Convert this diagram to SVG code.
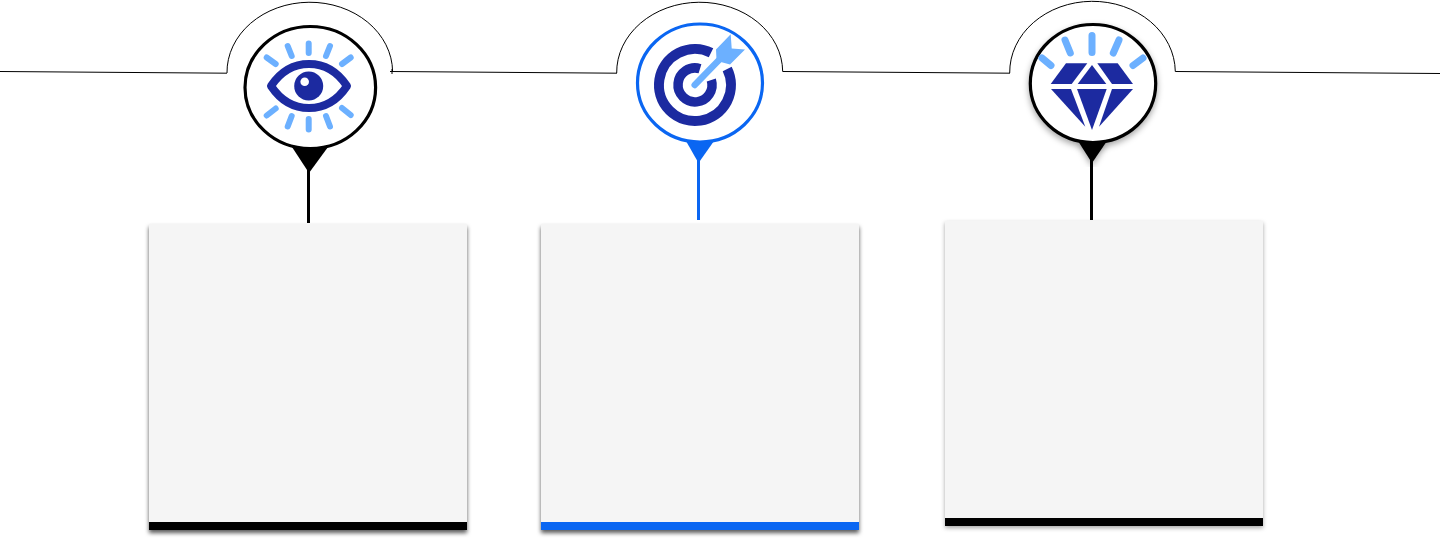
<svg xmlns="http://www.w3.org/2000/svg" width="1440" height="538" viewBox="0 0 1440 538">
<defs>
<filter id="cardShadow" x="-5%" y="-5%" width="110%" height="110%"><feDropShadow dx="0" dy="3" stdDeviation="2.2" flood-color="#000" flood-opacity="0.65"/></filter>
<filter id="cardShadowLight" x="-5%" y="-5%" width="110%" height="110%"><feDropShadow dx="0" dy="2" stdDeviation="2" flood-color="#000" flood-opacity="0.35"/></filter>
<filter id="pinShadow" x="-15%" y="-15%" width="130%" height="130%"><feDropShadow dx="0" dy="3" stdDeviation="3" flood-color="#000" flood-opacity="0.35"/></filter>
</defs>
<style>
.wire{fill:none;stroke:#000;stroke-width:1}
.ring{fill:#fff;stroke-width:3.2}
.k{stroke:#000}.kf{fill:#000}
.b{stroke:#0a66f2}.bf{fill:#0a66f2}
.card{fill:#f5f5f5}
.ray{fill:none;stroke:#6cb0ff;stroke-width:6;stroke-linecap:round}
.navy{fill:#1c2aa0}
.navyS{fill:none;stroke:#1c2aa0}
</style>
<g id="connectors">
<path class="wire" d="M0,71.5L227,73.2"/>
<path class="wire" d="M227,73A82.8,70 0 0 1 392.6,71.5"/>
<path class="wire" d="M390,71.5L617,73.2"/>
<path class="wire" d="M392,69V74"/>
<path class="wire" d="M616.7,73A83,70 0 0 1 782.7,71.5"/>
<path class="wire" d="M782.7,71.5L1010,73.2"/>
<path class="wire" d="M1009.7,73A82.8,71 0 0 1 1175.3,71.5"/>
<path class="wire" d="M1175.3,71.5L1440,73.5"/>
</g>
<g id="node-eye">
<rect class="kf" x="307" y="165" width="3" height="58"/>
<polygon class="kf" points="292,147 328,147 309,173"/>
<ellipse class="ring k" cx="310.3" cy="87.5" rx="65.3" ry="61"/>
<g class="ray">
<path d="M308.7,43.5V53M287.7,46L291.7,56M330,46L326,56M266.7,57.5L275.7,64M350.7,57.5L342,64M266.7,115.5L275.7,108.5M350.7,115L342,108M291.7,116L287.7,126.5M326,116L330,126.5M308.7,119V129.5"/>
</g>
<path class="navyS" stroke-width="8" stroke-linejoin="round" d="M271,86C281,71 294,64 309,64C324,64 337,71 347,86C337,101 324,108 309,108C294,108 281,101 271,86Z"/>
<circle class="navy" cx="308.7" cy="86" r="14.5"/>
<circle cx="304.7" cy="81.7" r="4.3" fill="#fff"/>
</g>
<g id="node-target">
<rect class="bf" x="697" y="160" width="3" height="60"/>
<polygon class="bf" points="686,141 714,141 698.5,163"/>
<ellipse class="ring b" cx="700" cy="83" rx="62.5" ry="59"/>
<path class="navyS" stroke-width="10" d="M711,52.8A36,36 0 1 0 727.2,69"/>
<path class="navyS" stroke-width="9.5" d="M700,68.7A17,17 0 1 0 711.3,80"/>
<path fill="none" stroke="#6cb0ff" stroke-width="6.5" stroke-linecap="round" d="M694.7,85L719,60"/>
<polygon fill="#6cb0ff" points="716,49.5 730.7,34.3 731.7,48.5 745,49.5 730,64.5 719,61.5 716.5,60"/>
</g>
<g id="node-diamond">
<rect class="kf" x="1090" y="160" width="3" height="60"/>
<polygon class="kf" points="1078,141 1107,141 1092,163" filter="url(#pinShadow)"/>
<ellipse class="ring k" cx="1093" cy="83.5" rx="62.7" ry="59" filter="url(#pinShadow)"/>
<path class="ray" style="stroke-width:7" d="M1092,35.5V52.5M1065,40L1070.3,53M1119,40L1113.3,53M1042,58L1051,65.5M1143,58L1133,65.5"/>
<g class="navy">
<polygon points="1066,63.3 1087.3,63.3 1071.7,84 1050.7,84"/>
<polygon points="1092,65 1106.3,84 1077.7,84"/>
<polygon points="1097.3,63.3 1117.7,63.3 1133,84 1112,84"/>
<polygon points="1051,89 1071,89 1085.3,126.7"/>
<polygon points="1077,89 1106.7,89 1092,130"/>
<polygon points="1112,89 1133,89 1099,126.7"/>
</g>
</g>
<g id="card-1">
<rect class="card" x="149" y="224" width="318" height="306" filter="url(#cardShadow)"/>
<rect class="kf" x="149" y="522" width="318" height="8"/>
</g>
<g id="card-2">
<rect class="card" x="541" y="224" width="318" height="306" filter="url(#cardShadow)"/>
<rect class="bf" x="541" y="522" width="318" height="8"/>
</g>
<g id="card-3">
<rect class="card" x="945" y="221" width="318" height="305" filter="url(#cardShadowLight)"/>
<rect class="kf" x="945" y="518" width="318" height="8"/>
</g>
</svg>
